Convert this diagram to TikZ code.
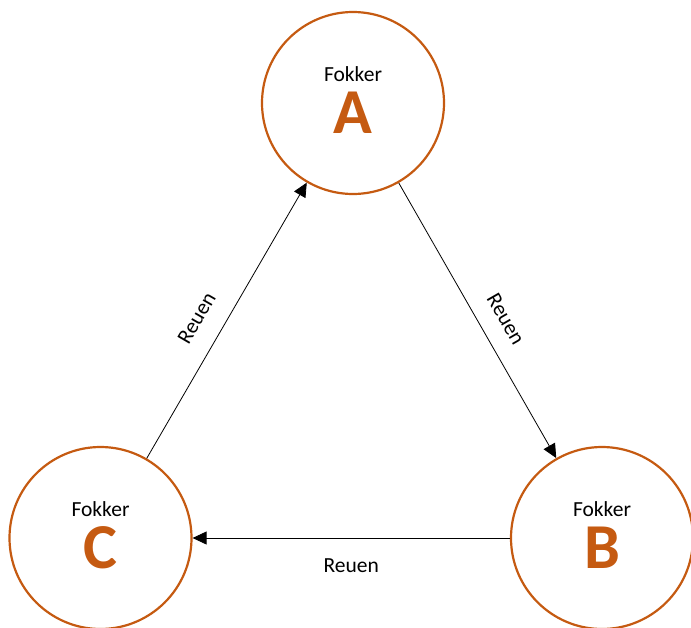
\documentclass[tikz,border=0pt]{standalone}
\usepackage{fontspec}
\setmainfont{Carlito}
\usetikzlibrary{arrows.meta}
\definecolor{fokkerorange}{RGB}{197,90,17}
\tikzset{
  fokkercircle/.style={circle, draw=fokkerorange, line width=2.2pt, minimum size=182pt, inner sep=0pt},
  fokkertext/.style={font=\fontsize{21.5}{25}\selectfont, anchor=base, inner sep=0pt},
  lettertext/.style={font=\fontsize{64}{70}\selectfont\bfseries, text=fokkerorange, anchor=base, inner sep=0pt},
  reuenarrow/.style={-{Triangle[length=14pt,width=13pt]}, line width=0.8pt},
  reuentext/.style={font=\fontsize{21.5}{25}\selectfont, inner sep=0pt},
}
\begin{document}
\begin{tikzpicture}[x=1pt,y=-1pt]
    \useasboundingbox (0,0) rectangle (691,627);

    % the three circles
    \node[fokkercircle] (A) at (353,103) {};
    \node[fokkercircle] (B) at (602,538) {};
    \node[fokkercircle] (C) at (100.5,538) {};

    % texts inside
    \node[fokkertext] (Afokker) at ([yshift=22pt]A.center) {Fokker};
    \node[lettertext] (Aletter) at ([yshift=-30pt]A.center) {A};
    \node[fokkertext] (Bfokker) at ([yshift=22pt]B.center) {Fokker};
    \node[lettertext] (Bletter) at ([yshift=-30pt]B.center) {B};
    \node[fokkertext] (Cfokker) at ([yshift=22pt]C.center) {Fokker};
    \node[lettertext] (Cletter) at ([yshift=-30pt]C.center) {C};

    % arrows
    \draw[reuenarrow] (A) -- node[reuentext, sloped, pos=0.54, above=18pt] (ABlabel) {Reuen} (B);
    \draw[reuenarrow] (B) -- node[reuentext, below=20pt] (BClabel) {Reuen} (C);
    \draw[reuenarrow] (C) -- node[reuentext, sloped, pos=0.46, above=20pt] (CAlabel) {Reuen} (A);
\end{tikzpicture}
\end{document}
